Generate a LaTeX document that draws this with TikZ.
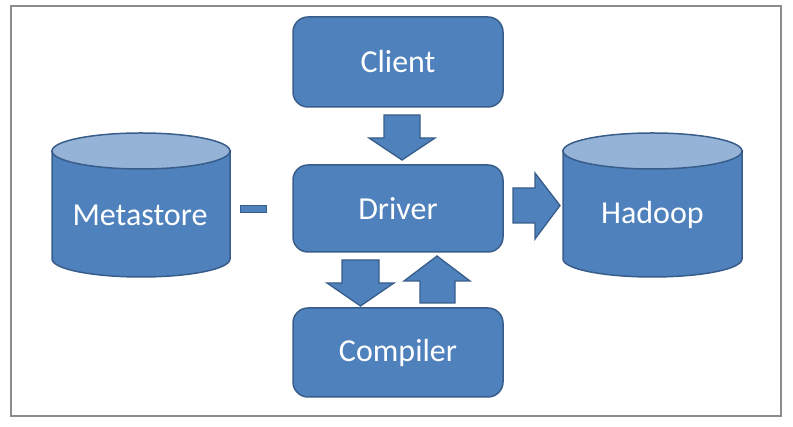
\documentclass[tikz,border=0pt]{standalone}
\usepackage{fontspec}
\setmainfont{Carlito}
\usepackage{xcolor}
\usetikzlibrary{calc,positioning}
\definecolor{azul}{HTML}{4F81BD}
\definecolor{borde}{HTML}{385D8A}
\definecolor{tapa}{HTML}{95B3D7}
\tikzset{
  caja/.style={draw=borde,fill=azul,line width=1.5pt,rounded corners=15pt,
    minimum width=210pt,text=white,font=\fontsize{32}{38}\selectfont},
  cuerpo/.style={draw=borde,fill=azul,line width=1.5pt},
  tapacil/.style={draw=borde,fill=tapa,line width=1.5pt},
  rotulo/.style={text=white,font=\fontsize{32}{38}\selectfont},
  flecha/.style={draw=borde,fill=azul,line width=1.3pt,line join=miter}
}
\begin{document}
\begin{tikzpicture}[x=1pt,y=1pt]
\useasboundingbox (0,0) rectangle (793,427);
% marco
\draw[gray!90,line width=1.4pt] (11,11) rectangle (781,421);
% cajas
\node[caja,minimum height=90pt] (client) at (398,365) {Client};
\node[caja,minimum height=87pt] (driver) at (398,218.5) {Driver};
\node[caja,minimum height=89pt] (compiler) at (398,74.5) {Compiler};
% cilindros
\draw[cuerpo] (52,276) -- (52,168) arc[start angle=180,end angle=360,x radius=89,y radius=18]
  -- (230,276) -- cycle;
\draw[tapacil] (141,276) ellipse[x radius=89,y radius=18];
\node[rotulo] (metastore) at (140,212) {Metastore};
\draw[cuerpo] (563,276) -- (563,168) arc[start angle=180,end angle=360,x radius=89.5,y radius=18]
  -- (742,276) -- cycle;
\draw[tapacil] (652.5,276) ellipse[x radius=89.5,y radius=18];
\node[rotulo] (hadoop) at (652.5,212) {Hadoop};
% flechas
\draw[flecha] (384,312) -- (420,312) -- (420,289) -- (435,289) -- (402,267)
  -- (369,289) -- (384,289) -- cycle;
\draw[flecha] (342,167) -- (379,167) -- (379,144) -- (394,144) -- (360.5,121)
  -- (327,144) -- (342,144) -- cycle;
\draw[flecha] (420,124) -- (455,124) -- (455,146) -- (470,146) -- (437,171)
  -- (404,146) -- (420,146) -- cycle;
\draw[flecha] (513,239) -- (535,239) -- (535,254) -- (560,221.5) -- (535,188)
  -- (535,204) -- (513,204) -- cycle;
% guion
\draw[flecha,line width=0.8pt] (240,215) rectangle (266,221.5);
\end{tikzpicture}
\end{document}
